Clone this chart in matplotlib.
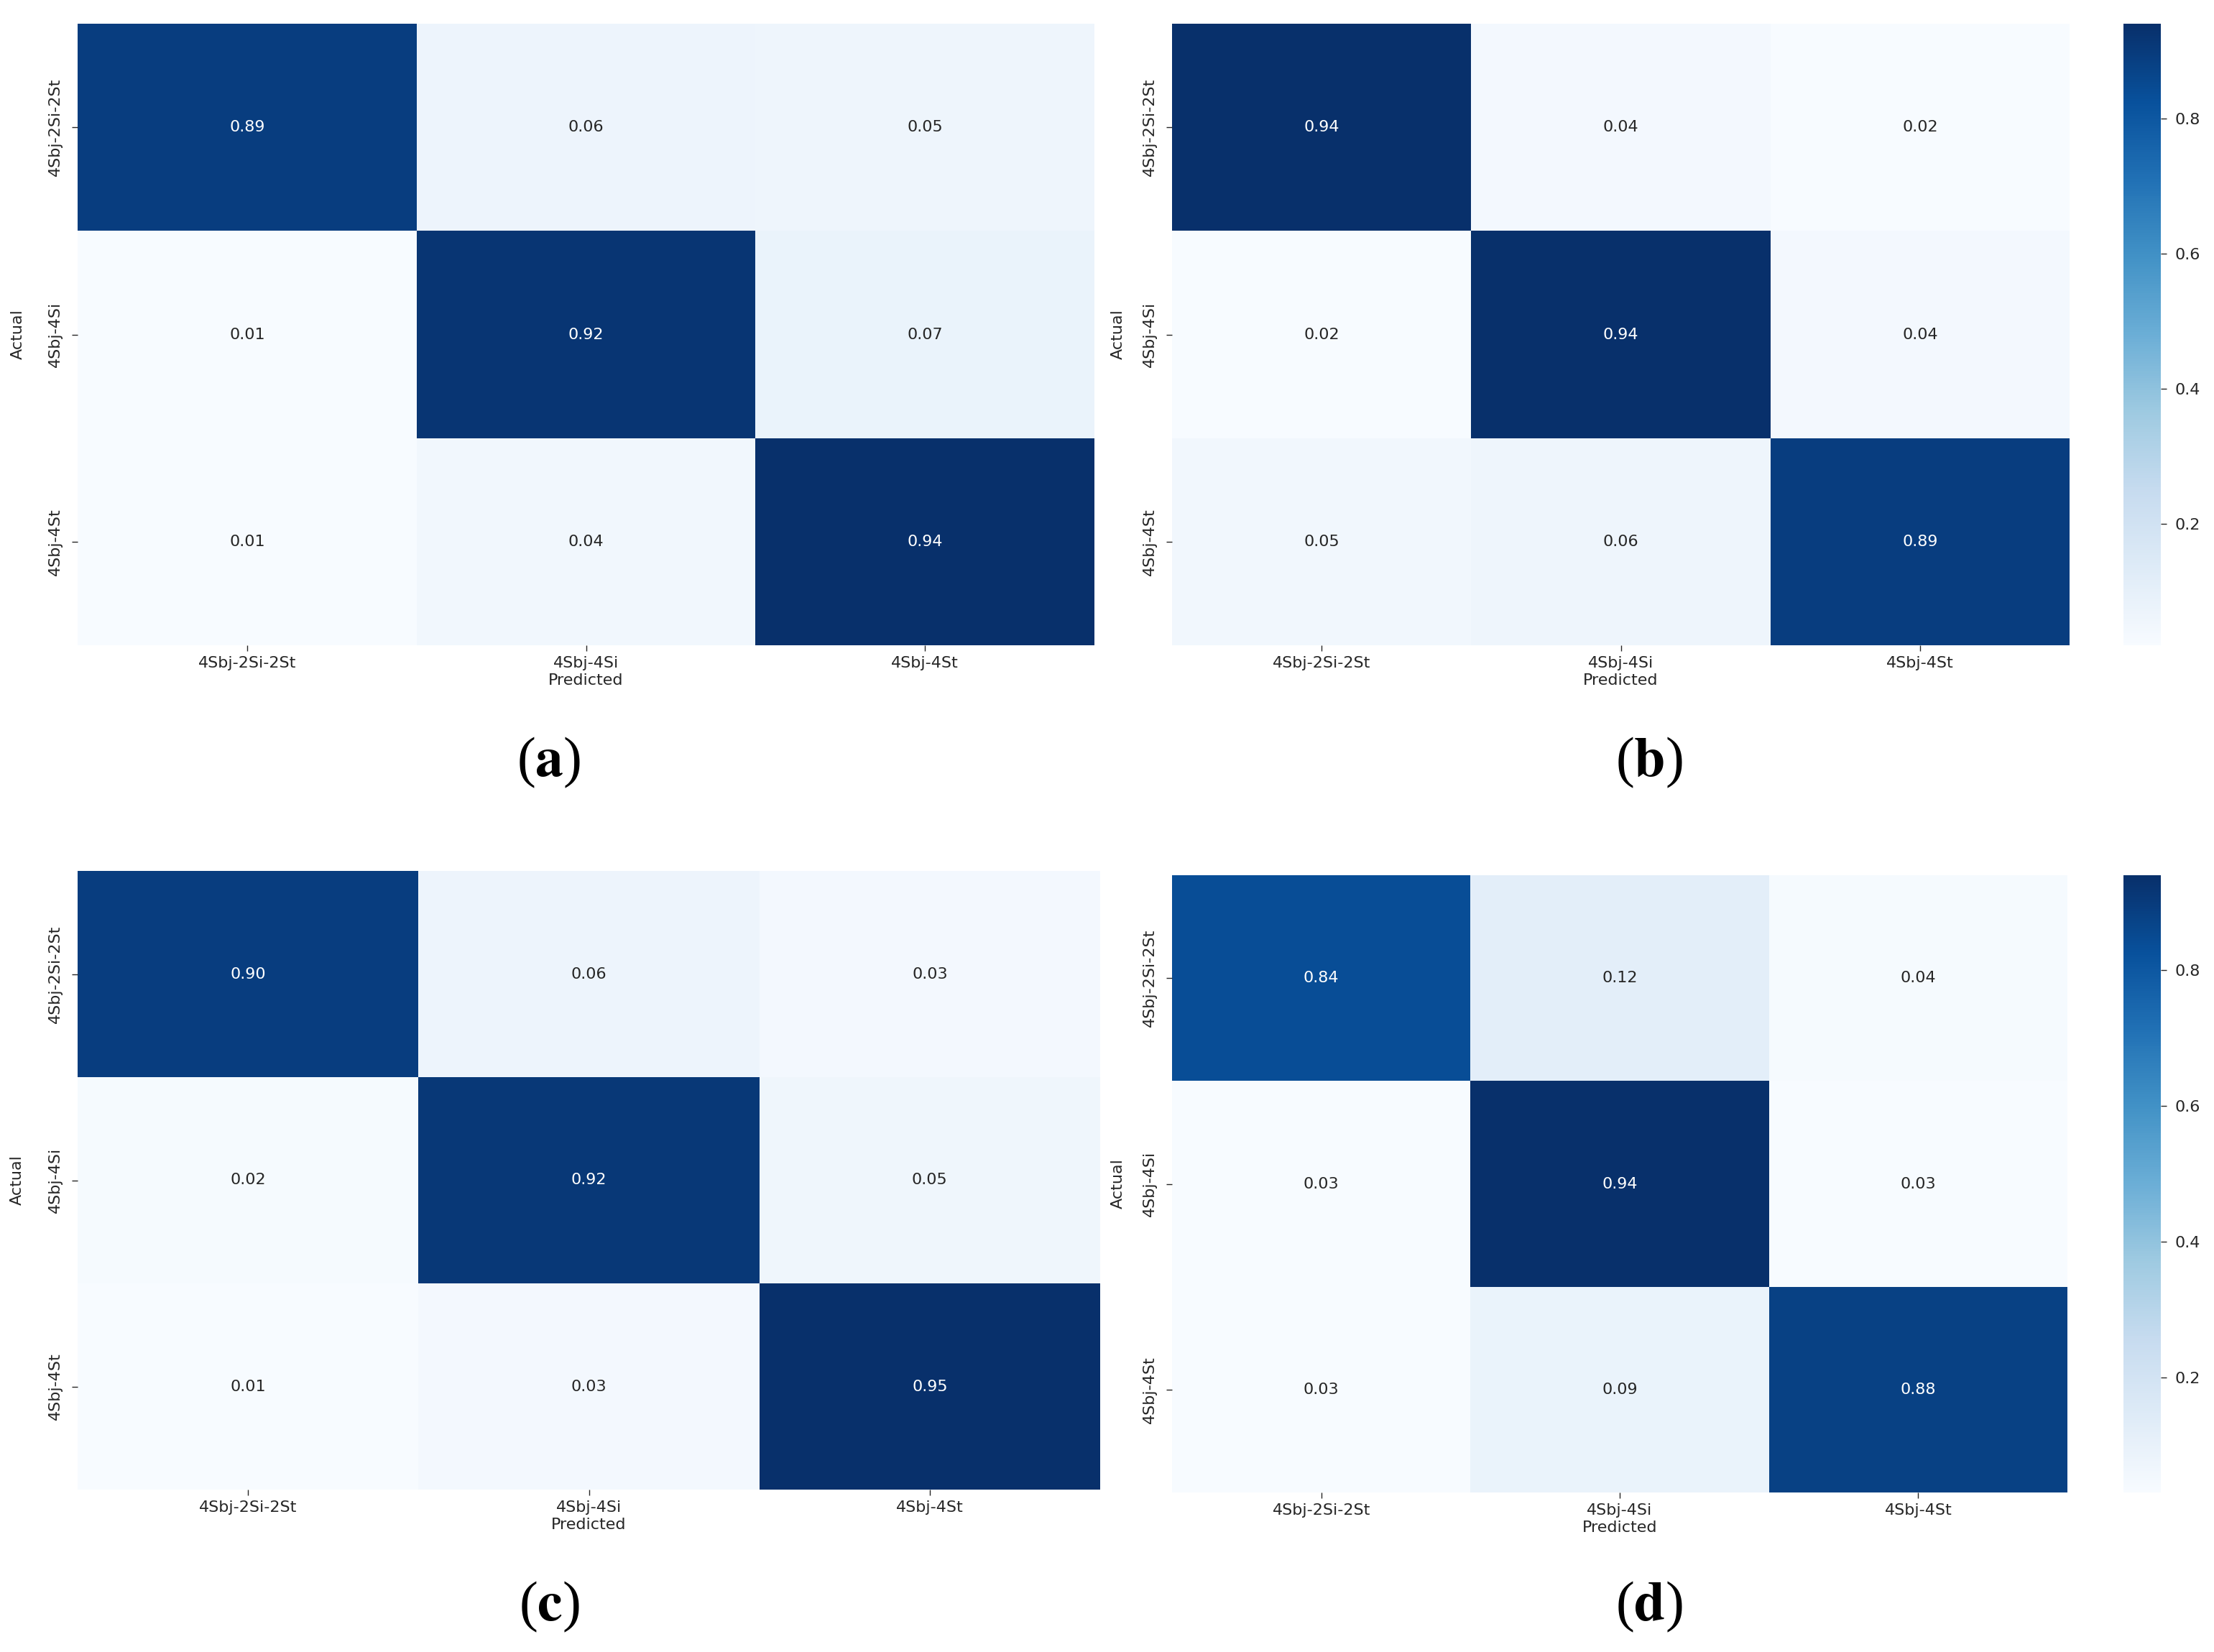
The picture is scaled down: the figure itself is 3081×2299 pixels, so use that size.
import matplotlib
matplotlib.use("Agg")
import matplotlib.pyplot as plt
import numpy as np
import seaborn as sns

# class names
labels = ['4Sbj-2Si-2St', '4Sbj-4Si', '4Sbj-4St']

# normalised confusion matrices
cm_a = [[0.89, 0.06, 0.05],
        [0.01, 0.92, 0.07],
        [0.01, 0.04, 0.94]]
cm_b = [[0.94, 0.04, 0.02],
        [0.02, 0.94, 0.04],
        [0.05, 0.06, 0.89]]
cm_c = [[0.90, 0.06, 0.03],
        [0.02, 0.92, 0.05],
        [0.01, 0.03, 0.95]]
cm_d = [[0.84, 0.12, 0.04],
        [0.03, 0.94, 0.03],
        [0.03, 0.09, 0.88]]
panel_names = ['a', 'b', 'c', 'd']

plt.rcParams['mathtext.fontset'] = 'stix'

W, H = 3081, 2299
fig = plt.figure(figsize=(W / 100, H / 100), dpi=100)

def box(x0, y0, x1, y1):
    # pixel box (top-left origin) -> figure fraction rect
    return [x0 / W, 1 - y1 / H, (x1 - x0) / W, (y1 - y0) / H]

heat_boxes = [box(108, 33, 1523, 898), box(1631, 33, 2880, 898),
              box(108, 1212, 1531, 2073), box(1631, 1218, 2877, 2077)]
cbar_boxes = [None, box(2955, 33, 3007, 898), None, box(2955, 1218, 3007, 2077)]
label_pos = [(764, 1061), (2295, 1061), (764, 2236), (2295, 2236)]

fs = 16
txt = '#262626'
for mat, hb, cb, name, (lx, ly) in zip([cm_a, cm_b, cm_c, cm_d], heat_boxes,
                                       cbar_boxes, panel_names, label_pos):
    ax = fig.add_axes(hb)
    if cb is not None:
        cax = fig.add_axes(cb)
        sns.heatmap(np.array(mat), annot=True, fmt='.2f', cmap='Blues', ax=ax,
                    cbar=True, cbar_ax=cax, xticklabels=labels,
                    yticklabels=labels, annot_kws={'size': fs})
        cax.tick_params(labelsize=fs, length=6, width=1, pad=8,
                        colors=txt)
        cax.set_yticks([0.2, 0.4, 0.6, 0.8])
    else:
        sns.heatmap(np.array(mat), annot=True, fmt='.2f', cmap='Blues', ax=ax,
                    cbar=False, xticklabels=labels, yticklabels=labels,
                    annot_kws={'size': fs})
    ax.set_yticklabels(labels, rotation=90, va='center')
    ax.set_xticklabels(labels, rotation=0)
    ax.tick_params(axis='x', labelsize=fs, length=6, width=1, pad=5,
                   colors=txt)
    ax.tick_params(axis='y', labelsize=fs, length=6, width=1, pad=9,
                   colors=txt)
    ax.set_xlabel('Predicted', fontsize=fs, labelpad=3, color=txt)
    ax.set_ylabel('Actual', fontsize=fs, color=txt)
    ax.yaxis.set_label_coords(-0.052, 0.5)
    fig.text(lx / W, 1 - ly / H, r'($\mathbf{%s}$)' % name, ha='center',
             va='center', fontsize=56, family='Liberation Serif')

fig.savefig('out.png', dpi=100)
